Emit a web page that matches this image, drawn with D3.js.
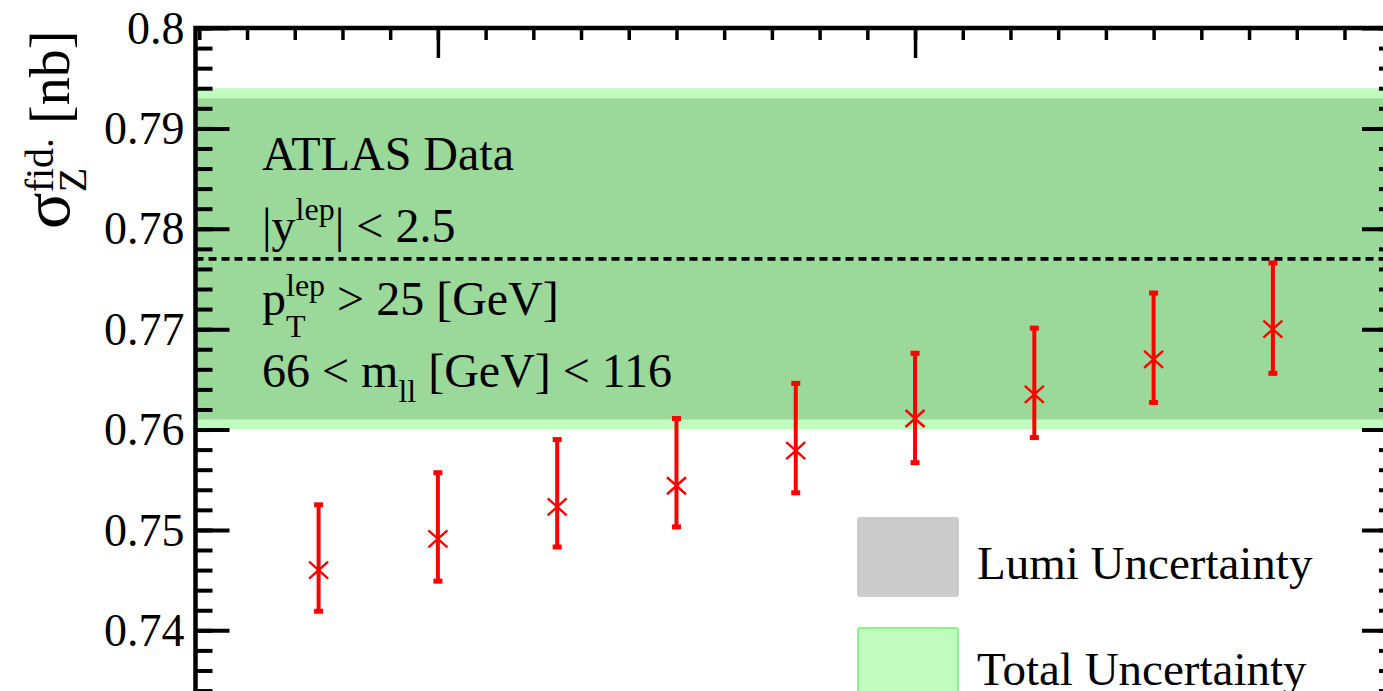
<!DOCTYPE html>
<html>
<head>
<meta charset="utf-8">
<script src="https://cdn.jsdelivr.net/npm/d3@7"></script>
<style>
  html, body { margin: 0; padding: 0; background: #ffffff; }
  svg { display: block; }
  text { font-family: "Liberation Serif", "Times New Roman", "DejaVu Serif", serif; fill: #000; }
</style>
</head>
<body>
<svg id="chart" width="1383" height="691"></svg>
<script>
// Fiducial Z cross-section points (nb) with asymmetric uncertainties
const xValues   = [-0.25, 0, 0.25, 0.5, 0.75, 1, 1.25, 1.5, 1.75];
const sigmaZ    = [0.7460, 0.7491, 0.7523, 0.7544, 0.7579, 0.7611, 0.7635, 0.7670, 0.7700];
const errUp     = [0.0065, 0.0066, 0.0067, 0.0067, 0.0067, 0.0065, 0.0066, 0.0066, 0.0066];
const errDown   = [0.0041, 0.0042, 0.0040, 0.0041, 0.0042, 0.0044, 0.0043, 0.0043, 0.0044];

// ATLAS measurement: central value with luminosity and total uncertainty
const atlasCentral = 0.777;
const lumiUnc      = 0.016;
const totalUnc     = 0.017;

// Axis ticks
const yMajorTicks = [0.74, 0.75, 0.76, 0.77, 0.78, 0.79, 0.80];
const yMinorTicks = d3.range(0, 36).map(i => +(0.73 + i * 0.002).toFixed(3));
const xMajorTicks = [0, 1, 2];
const xMinorTicks = d3.range(0, 26).map(i => +(-0.5 + i * 0.1).toFixed(2));

const legendLabels = ["Lumi Uncertainty", "Total Uncertainty"];

const svg = d3.select("#chart");

// Plot frame
const plotLeft = 195.5, plotRight = 1396, plotTop = 28, plotBottom = 730.7;

const x = d3.scaleLinear().domain([-0.508, 2.008]).range([plotLeft, plotRight]);
const y = d3.scaleLinear().domain([0.73, 0.80]).range([plotBottom, plotTop]);

const plot = svg.append("g");

// Total uncertainty band (light green) and luminosity band on top
plot.append("rect")
  .attr("x", x(-0.508)).attr("width", x(2.008) - x(-0.508))
  .attr("y", y(atlasCentral + totalUnc))
  .attr("height", y(atlasCentral - totalUnc) - y(atlasCentral + totalUnc))
  .attr("fill", "#c0fcc0");
plot.append("rect")
  .attr("x", x(-0.508)).attr("width", x(2.008) - x(-0.508))
  .attr("y", y(atlasCentral + lumiUnc))
  .attr("height", y(atlasCentral - lumiUnc) - y(atlasCentral + lumiUnc))
  .attr("fill", "#9ad99a");

// Central value
plot.append("line")
  .attr("x1", x(-0.508)).attr("x2", x(2.008))
  .attr("y1", y(atlasCentral)).attr("y2", y(atlasCentral))
  .attr("stroke", "#000").attr("stroke-width", 3.6)
  .attr("stroke-dasharray", "8,5");

// Rich text helper: segments placed in sequence, "stack" segments share the previous x
function richText(g, x0, y0, parts) {
  let cx = x0, segStart = x0;
  parts.forEach(p => {
    const sx = p.stack ? segStart : cx;
    const t = g.append("text")
      .attr("x", sx).attr("y", y0 + (p.dy || 0))
      .attr("font-size", p.size)
      .style("white-space", "pre")
      .text(p.t);
    const w = t.node().getComputedTextLength();
    if (p.stack) {
      cx = Math.max(cx, sx + w);
    } else {
      segStart = sx;
      cx = sx + w;
    }
  });
}

const ann = svg.append("g");
const big = 48, small = 32;
richText(ann, 262, 170, [{t: "ATLAS Data", size: big}]);
richText(ann, 262, 242, [
  {t: "|y", size: big},
  {t: "lep", size: small, dy: -22},
  {t: "| < 2.5", size: big}
]);
richText(ann, 262, 315, [
  {t: "p", size: big},
  {t: "lep", size: small, dy: -19},
  {t: "T", size: small, dy: 22, stack: true},
  {t: " > 25 [GeV]", size: big}
]);
richText(ann, 262, 387, [
  {t: "66 < m", size: big},
  {t: "ll", size: small, dy: 15},
  {t: " [GeV] < 116", size: big}
]);

// Data points: error bars with caps and x markers
const pts = svg.append("g");
xValues.forEach((xv, i) => {
  const cx = x(xv);
  const yc = y(sigmaZ[i]);
  const yHi = y(sigmaZ[i] + errUp[i]);
  const yLo = y(sigmaZ[i] - errDown[i]);
  pts.append("line")
    .attr("x1", cx).attr("x2", cx).attr("y1", yHi).attr("y2", yLo)
    .attr("stroke", "#ff0000").attr("stroke-width", 4);
  [yHi, yLo].forEach(yy => {
    pts.append("rect")
      .attr("x", cx - 4.5).attr("y", yy - 2.5)
      .attr("width", 9).attr("height", 5)
      .attr("fill", "#ff0000");
  });
  pts.append("path")
    .attr("d", `M${cx - 9.5},${yc - 8.5}L${cx + 9.5},${yc + 8.5}M${cx - 9.5},${yc + 8.5}L${cx + 9.5},${yc - 8.5}`)
    .attr("stroke", "#ff0000").attr("stroke-width", 2.4).attr("fill", "none");
});

// Legend
const legend = svg.append("g");
legend.append("rect")
  .attr("x", 857).attr("y", 517).attr("width", 102).attr("height", 80)
  .attr("rx", 3).attr("fill", "#cccccc");
legend.append("rect")
  .attr("x", 858).attr("y", 628).attr("width", 100).attr("height", 80)
  .attr("rx", 2).attr("fill", "#c0fcc0").attr("stroke", "#8ef08e").attr("stroke-width", 2);
legend.selectAll("text.leg").data(legendLabels).join("text")
  .attr("class", "leg")
  .attr("x", 977).attr("y", (d, i) => 579 + i * 106)
  .attr("font-size", 47)
  .text(d => d);

// Axes
const fmt = d => String(+d.toFixed(2));
function styleAxis(g, w) {
  g.select(".domain").remove();
  g.selectAll(".tick line").attr("stroke", "#000").attr("stroke-width", w);
}

const axL = svg.append("g").attr("transform", `translate(${plotLeft},0)`)
  .call(d3.axisLeft(y).tickValues(yMinorTicks).tickSize(-17).tickSizeOuter(0).tickFormat(""));
styleAxis(axL, 4);
const axLM = svg.append("g").attr("transform", `translate(${plotLeft},0)`)
  .call(d3.axisLeft(y).tickValues(yMajorTicks).tickSize(-34).tickSizeOuter(0).tickPadding(11).tickFormat(fmt));
styleAxis(axLM, 4);
axLM.selectAll(".tick text")
  .attr("font-size", 46)
  .attr("font-family", "Liberation Serif, Times New Roman, serif")
  .attr("dy", "0.33em");

const axR = svg.append("g").attr("transform", `translate(${plotRight},0)`)
  .call(d3.axisRight(y).tickValues(yMinorTicks).tickSize(-17).tickSizeOuter(0).tickFormat(""));
styleAxis(axR, 4);
const axRM = svg.append("g").attr("transform", `translate(${plotRight},0)`)
  .call(d3.axisRight(y).tickValues(yMajorTicks).tickSize(-34).tickSizeOuter(0).tickFormat(""));
styleAxis(axRM, 4);

const axT = svg.append("g").attr("transform", `translate(0,${plotTop})`)
  .call(d3.axisTop(x).tickValues(xMinorTicks).tickSize(-12).tickSizeOuter(0).tickFormat(""));
styleAxis(axT, 3.5);
const axTM = svg.append("g").attr("transform", `translate(0,${plotTop})`)
  .call(d3.axisTop(x).tickValues(xMajorTicks).tickSize(-30).tickSizeOuter(0).tickFormat(""));
styleAxis(axTM, 3.5);

// Frame
svg.append("path")
  .attr("d", `M${plotLeft},${plotBottom}V${plotTop}H${plotRight}V${plotBottom}`)
  .attr("fill", "none").attr("stroke", "#000").attr("stroke-width", 4.5)
  .attr("stroke-linecap", "square");

// Y-axis title, rotated
const yt = svg.append("g").attr("transform", "translate(69,229) rotate(-90)");
richText(yt, 0, 0, [
  {t: "σ", size: 68},
  {t: "fid.", size: 40, dy: -16},
  {t: "Z", size: 40, dy: 17, stack: true},
  {t: " [nb]", size: 56}
]);
</script>
</body>
</html>
